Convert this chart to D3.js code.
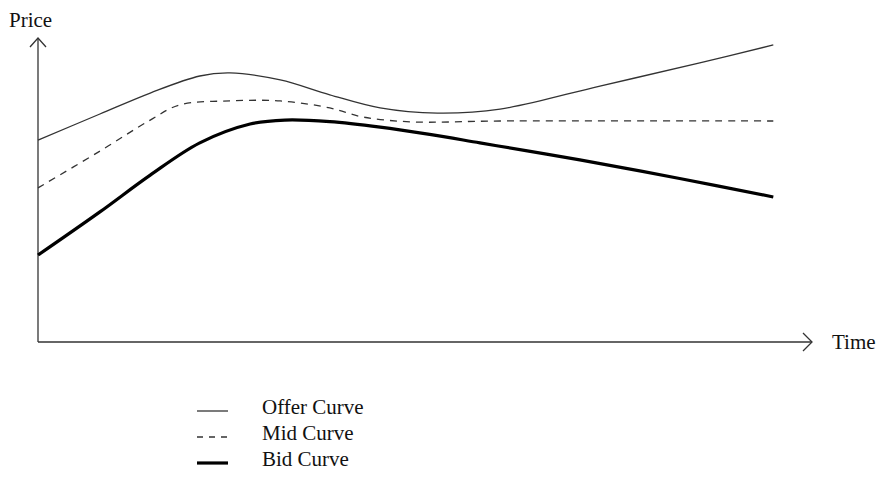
<!DOCTYPE html>
<html>
<head>
<meta charset="utf-8">
<script src="https://cdn.jsdelivr.net/npm/d3@7"></script>
<style>
  body { margin: 0; background: #fff; }
  text { font-family: "Liberation Serif", "DejaVu Serif", serif; fill: #111; }
</style>
</head>
<body>
<div id="chart"></div>
<script>
// Curve values (time 0-100, price 0-100)
let offerTime  = [0, 8.0, 14.5, 20.9, 24.8, 31.3, 37.7, 44.2, 51.6, 59.7, 72.6, 85.5, 95.0];
let offerPrice = [66.4, 75.0, 81.9, 87.5, 88.5, 86.2, 81.3, 77.0, 75.3, 76.6, 84.2, 91.8, 97.7];

let midTime  = [0, 8.0, 14.5, 18.3, 24.8, 31.3, 37.7, 42.0, 48.4, 59.7, 95.0];
let midPrice = [50.7, 62.8, 73.0, 78.0, 79.3, 79.3, 77.0, 74.0, 72.4, 72.7, 72.7];

let bidTime  = [0, 8.0, 14.5, 20.9, 27.4, 31.9, 37.7, 44.2, 50.6, 57.1, 63.6, 70.0, 82.9, 95.0];
let bidPrice = [28.6, 42.8, 54.9, 65.5, 71.7, 73.0, 72.5, 70.7, 68.3, 65.5, 62.7, 59.9, 53.8, 47.7];

let legendNames = ["Offer Curve", "Mid Curve", "Bid Curve"];

let width = 881, height = 501;

let svg = d3.select("#chart").append("svg")
    .attr("width", width)
    .attr("height", height);

// scales
let x = d3.scaleLinear().domain([0, 100]).range([38, 812]);
let y = d3.scaleLinear().domain([0, 100]).range([342, 38]);

// axes with open arrow heads
let axisColor = "#333";
svg.append("line")
    .attr("x1", x(0)).attr("y1", y(0))
    .attr("x2", x(0)).attr("y2", y(100))
    .attr("stroke", axisColor).attr("stroke-width", 1.3);
svg.append("path")
    .attr("d", `M${x(0) - 8},${y(100) + 9} L${x(0)},${y(100)} L${x(0) + 8},${y(100) + 9}`)
    .attr("fill", "none").attr("stroke", axisColor).attr("stroke-width", 1.3);

svg.append("line")
    .attr("x1", x(0)).attr("y1", y(0))
    .attr("x2", x(100)).attr("y2", y(0))
    .attr("stroke", axisColor).attr("stroke-width", 1.3);
svg.append("path")
    .attr("d", `M${x(100) - 9},${y(0) - 9} L${x(100)},${y(0)} L${x(100) - 9},${y(0) + 9}`)
    .attr("fill", "none").attr("stroke", axisColor).attr("stroke-width", 1.3);

svg.append("text")
    .attr("x", 9).attr("y", 27)
    .attr("font-size", 21)
    .text("Price");

svg.append("text")
    .attr("x", 832).attr("y", 349)
    .attr("font-size", 21)
    .text("Time");

// curves
let series = [
    { name: legendNames[0], t: offerTime, p: offerPrice, width: 1.3, dash: null, color: "#333" },
    { name: legendNames[1], t: midTime, p: midPrice, width: 1.3, dash: "7,6", color: "#333" },
    { name: legendNames[2], t: bidTime, p: bidPrice, width: 3.2, dash: null, color: "#000" }
];

let line = d3.line()
    .x(d => x(d[0]))
    .y(d => y(d[1]))
    .curve(d3.curveCatmullRom.alpha(0.5));

series.forEach(function (s) {
    svg.append("path")
        .datum(d3.zip(s.t, s.p))
        .attr("fill", "none")
        .attr("stroke", s.color)
        .attr("stroke-width", s.width)
        .attr("stroke-dasharray", s.dash)
        .attr("d", line);
});

// legend
let legend = svg.selectAll(".legend")
    .data(series)
    .enter().append("g")
    .attr("class", "legend")
    .attr("transform", (d, i) => "translate(0," + (411 + i * 26) + ")");

legend.append("line")
    .attr("x1", 197).attr("x2", 228)
    .attr("y1", 0).attr("y2", 0)
    .attr("stroke", d => d.color)
    .attr("stroke-width", d => d.width)
    .attr("stroke-dasharray", (d, i) => i === 1 ? "6,6" : null);

legend.append("text")
    .attr("x", 262).attr("y", 3)
    .attr("font-size", 21)
    .text(d => d.name);
</script>
</body>
</html>
